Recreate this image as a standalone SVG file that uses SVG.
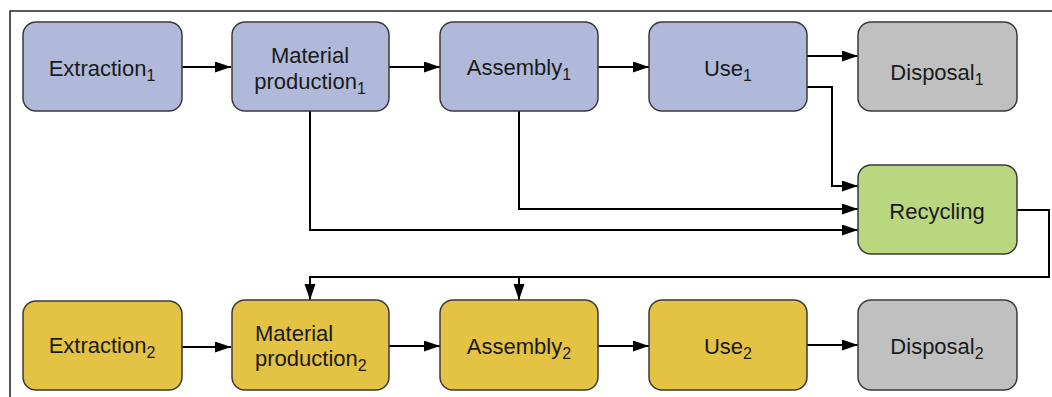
<svg xmlns="http://www.w3.org/2000/svg" width="1052" height="397" viewBox="0 0 1052 397">
<style>
.box{stroke:#3a3a3a;stroke-width:1.5}
.b{fill:#B0B9D9}.y{fill:#E3C244}.g{fill:#C0C0C0}.gr{fill:#B9D77E}
text{font-family:"Liberation Sans",Arial,sans-serif;font-size:22px;fill:#1a1a1a}
.c{text-anchor:middle}
.s{font-size:16px}
.ln{fill:none;stroke:#000;stroke-width:2}
</style>
<defs>
<marker id="ah" markerWidth="18" markerHeight="12" refX="16" refY="5.5" orient="auto" markerUnits="userSpaceOnUse">
<path d="M0,0 L16,5.5 L0,11 Z" fill="#000"/>
</marker>
</defs>
<rect width="1052" height="397" fill="#fff"/>
<path d="M10,397 V11 H1052" fill="none" stroke="#222" stroke-width="1.5"/>
<g id="connectors">
<path class="ln" marker-end="url(#ah)" d="M182,67 H231"/>
<path class="ln" marker-end="url(#ah)" d="M389,67 H440"/>
<path class="ln" marker-end="url(#ah)" d="M598,67 H649"/>
<path class="ln" marker-end="url(#ah)" d="M807,56 H858"/>
<path class="ln" marker-end="url(#ah)" d="M807,87 H832 V186 H858"/>
<path class="ln" marker-end="url(#ah)" d="M519,111 V209 H858"/>
<path class="ln" marker-end="url(#ah)" d="M310,111 V230 H858"/>
<path class="ln" marker-end="url(#ah)" d="M1017,210 H1049 V277 H310 V300"/>
<path class="ln" marker-end="url(#ah)" d="M519,277 V300"/>
<path class="ln" marker-end="url(#ah)" d="M182,347 H231"/>
<path class="ln" marker-end="url(#ah)" d="M389,346 H440"/>
<path class="ln" marker-end="url(#ah)" d="M598,346 H649"/>
<path class="ln" marker-end="url(#ah)" d="M807,345 H858"/>
</g>
<g id="extraction1"><rect class="box b" x="23" y="22" width="159" height="89" rx="13"/><text class="c" x="102" y="76">Extraction<tspan class="s" dy="5">1</tspan></text></g>
<g id="material1"><rect class="box b" x="232" y="22" width="157" height="89" rx="13"/><text class="c" x="310" y="63">Material</text><text class="c" x="310" y="89">production<tspan class="s" dy="5">1</tspan></text></g>
<g id="assembly1"><rect class="box b" x="440" y="22" width="158" height="89" rx="13"/><text class="c" x="519" y="75">Assembly<tspan class="s" dy="5">1</tspan></text></g>
<g id="use1"><rect class="box b" x="649" y="22" width="158" height="89" rx="13"/><text class="c" x="728" y="76">Use<tspan class="s" dy="5">1</tspan></text></g>
<g id="disposal1"><rect class="box g" x="858" y="22" width="159" height="89" rx="13"/><text class="c" x="937" y="80">Disposal<tspan class="s" dy="5">1</tspan></text></g>
<g id="recycling"><rect class="box gr" x="858" y="165" width="159" height="89" rx="13"/><text class="c" x="937" y="219">Recycling</text></g>
<g id="extraction2"><rect class="box y" x="23" y="301" width="159" height="89" rx="13"/><text class="c" x="102" y="353">Extraction<tspan class="s" dy="5">2</tspan></text></g>
<g id="material2"><rect class="box y" x="232" y="300" width="157" height="90" rx="13"/><text x="255" y="341">Material</text><text x="255" y="366">production<tspan class="s" dy="5">2</tspan></text></g>
<g id="assembly2"><rect class="box y" x="440" y="300" width="158" height="90" rx="13"/><text class="c" x="519" y="354">Assembly<tspan class="s" dy="5">2</tspan></text></g>
<g id="use2"><rect class="box y" x="649" y="300" width="158" height="90" rx="13"/><text class="c" x="728" y="354">Use<tspan class="s" dy="5">2</tspan></text></g>
<g id="disposal2"><rect class="box g" x="858" y="300" width="159" height="90" rx="13"/><text class="c" x="937" y="354">Disposal<tspan class="s" dy="5">2</tspan></text></g>
</svg>
